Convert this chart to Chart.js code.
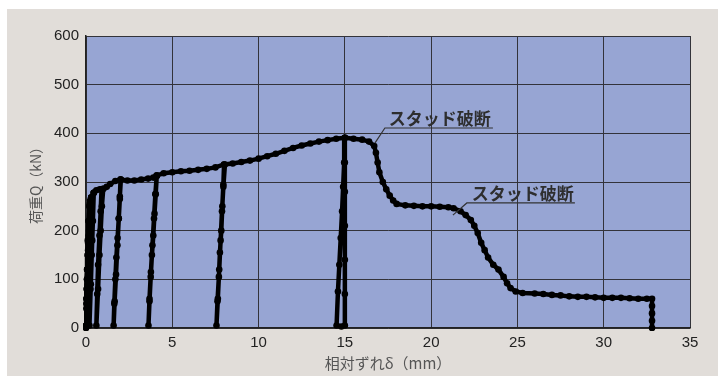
<!DOCTYPE html>
<html>
<head>
<meta charset="utf-8">
<script src="https://cdn.jsdelivr.net/npm/chart.js@4/dist/chart.umd.min.js"></script>
<style>
  html, body { margin: 0; padding: 0; background: #ffffff; }
  #frame {
    position: absolute; left: 7px; top: 9px;
    width: 711px; height: 367px; background: #e1ddd9;
  }
  canvas { display: block; }
</style>
</head>
<body>
<div id="frame"><canvas id="chart" width="711" height="367"></canvas></div>
<script>
// Load-slip curve of a stud push-out test (relative slip δ vs load Q)

// ---------------------------------------------------------------------------
// Data
// ---------------------------------------------------------------------------

var xTicks = [0, 5, 10, 15, 20, 25, 30, 35];
var yTicks = [0, 100, 200, 300, 400, 500, 600];

// backbone (envelope) curve
var envSlip = [0, 0.03, 0.06, 0.1, 0.15, 0.2, 0.3, 0.45, 0.6, 0.8, 1.0, 1.2, 1.4, 1.7,
  2.0, 2.4, 2.8, 3.2, 3.6, 3.9, 4.1, 4.5, 5.0, 5.5, 6.0, 6.5, 7.0, 7.5, 8.0, 8.5,
  9.0, 9.5, 10.0, 10.5, 11.0, 11.5, 12.0, 12.5, 13.0, 13.5, 14.0, 14.5, 15.0, 15.5,
  16.0, 16.4, 16.7, 16.8, 16.9, 17.0, 17.2, 17.4, 17.6, 17.8, 18.0, 18.5, 19.0, 19.5,
  20.0, 20.5, 21.0, 21.3, 21.7, 22.0, 22.3, 22.5, 22.7, 22.9, 23.1, 23.3, 23.6, 23.9,
  24.2, 24.4, 24.6, 24.9, 25.3, 26.0, 26.5, 27.0, 27.5, 28.0, 28.5, 29.0, 29.5, 30.0,
  30.5, 31.0, 31.5, 32.0, 32.5, 32.8, 32.8, 32.8, 32.8, 32.8];
var envLoad = [0, 60, 120, 180, 220, 250, 268, 278, 283, 285, 286, 290, 296, 302,
  305, 303, 303, 305, 307, 309, 313, 318, 320, 322, 323, 325, 327, 330, 336, 338,
  341, 344, 348, 353, 358, 364, 370, 375, 379, 383, 386, 389, 391, 389,
  387, 383, 374, 360, 340, 320, 300, 285, 272, 262, 255, 252, 251, 250,
  250, 249, 248, 246, 240, 232, 222, 210, 195, 175, 160, 145, 130, 120,
  105, 92, 82, 75, 72, 71, 70, 68, 67, 65, 64, 64, 63, 62,
  62, 62, 61, 60, 60, 60, 45, 30, 15, 0];

// unloading / reloading loops
var loopSlip = [
  [0.06, 0.03, 0.0, 0.02, 0.05, 0.08],
  [0.1, 0.06, 0.02, 0.0, 0.04, 0.08, 0.12],
  [0.15, 0.1, 0.05, 0.0, 0.05, 0.12, 0.2],
  [0.22, 0.16, 0.1, 0.05, 0.1, 0.18, 0.24],
  [0.3, 0.26, 0.2, 0.12, 0.05, 0.15, 0.25, 0.3],
  [0.45, 0.4, 0.33, 0.26, 0.2, 0.28, 0.36, 0.45],
  [0.9, 0.85, 0.78, 0.7, 0.65, 0.6, 0.7, 0.78, 0.85, 0.92, 1.0],
  [2.0, 1.96, 1.9, 1.83, 1.76, 1.7, 1.64, 1.6, 1.66, 1.74, 1.82, 1.9, 1.96, 2.02],
  [4.1, 4.04, 3.97, 3.9, 3.82, 3.75, 3.68, 3.62, 3.68, 3.76, 3.85, 3.94, 4.02, 4.1],
  [8.0, 7.96, 7.9, 7.84, 7.76, 7.7, 7.62, 7.56, 7.64, 7.72, 7.8, 7.88, 7.96, 8.05],
  [15.0, 14.96, 14.9, 14.84, 14.76, 14.68, 14.6, 14.52, 14.8, 15.0, 15.0, 15.0, 15.0, 15.0, 15.0, 15.0]
];
var loopLoad = [
  [100, 60, 5, 40, 80, 120],
  [150, 100, 50, 5, 60, 120, 175],
  [220, 150, 80, 5, 80, 160, 250],
  [255, 190, 120, 5, 100, 200, 262],
  [268, 220, 160, 90, 5, 100, 200, 268],
  [278, 220, 150, 80, 5, 90, 180, 278],
  [285, 240, 190, 130, 70, 5, 80, 150, 200, 250, 286],
  [305, 265, 225, 185, 145, 100, 50, 5, 55, 110, 170, 225, 270, 305],
  [313, 275, 235, 190, 150, 105, 55, 5, 60, 115, 170, 225, 275, 313],
  [336, 295, 250, 200, 155, 105, 55, 5, 60, 120, 180, 240, 290, 336],
  [391, 340, 290, 240, 185, 130, 75, 5, 3, 5, 70, 140, 210, 280, 340, 391]
];

var noteText = ['スタッド破断', 'スタッド破断'];

// ---------------------------------------------------------------------------
// Build datasets
// ---------------------------------------------------------------------------

function toPoints(xs, ys) {
  return xs.map(function (x, i) { return { x: x, y: ys[i] }; });
}

function curveStyle(points) {
  return {
    data: points,
    showLine: true,
    borderColor: '#000000',
    borderWidth: 4.5,
    backgroundColor: '#000000',
    pointRadius: 3.3,
    pointBorderWidth: 0,
    tension: 0,
    clip: 3
  };
}

var datasets = [curveStyle(toPoints(envSlip, envLoad))];
loopSlip.forEach(function (xs, i) {
  datasets.push(curveStyle(toPoints(xs, loopLoad[i])));
});

// ---------------------------------------------------------------------------
// Plugins: plot background and the two annotations
// ---------------------------------------------------------------------------

var plotBackground = {
  id: 'plotBackground',
  beforeDraw: function (chart) {
    var a = chart.chartArea;
    var ctx = chart.ctx;
    ctx.save();
    ctx.fillStyle = '#97a5d3';
    ctx.fillRect(a.left, a.top, a.right - a.left, a.bottom - a.top);
    ctx.restore();
  }
};

// leader tip -> underline start, underline end, text origin (data units)
var notes = [
  { tip: [16.74, 380], knee: [17.32, 411], end: 23.58, text: [17.55, 417] },
  { tip: [21.26, 232], knee: [22.07, 257], end: 28.33, text: [22.36, 263] }
];

var annotations = {
  id: 'annotations',
  afterDatasetsDraw: function (chart) {
    var sx = chart.scales.x, sy = chart.scales.y;
    var ctx = chart.ctx;
    ctx.save();
    ctx.strokeStyle = '#333333';
    ctx.fillStyle = '#2e2e2e';
    ctx.lineWidth = 1.2;
    ctx.font = 'bold 17px "Noto Sans CJK JP", sans-serif';
    ctx.textBaseline = 'alphabetic';
    notes.forEach(function (n, i) {
      var kx = sx.getPixelForValue(n.knee[0]);
      var ky = sy.getPixelForValue(n.knee[1]);
      ctx.beginPath();
      ctx.moveTo(sx.getPixelForValue(n.tip[0]), sy.getPixelForValue(n.tip[1]));
      ctx.lineTo(kx, ky);
      ctx.lineTo(sx.getPixelForValue(n.end), ky);
      ctx.stroke();
      ctx.fillText(noteText[i], sx.getPixelForValue(n.text[0]), sy.getPixelForValue(n.text[1]));
    });
    ctx.restore();
  }
};

// ---------------------------------------------------------------------------
// Chart
// ---------------------------------------------------------------------------

new Chart(document.getElementById('chart'), {
  type: 'scatter',
  data: { datasets: datasets },
  options: {
    responsive: false,
    animation: false,
    layout: { padding: { left: 0, top: 27, right: 28, bottom: 0 } },
    plugins: { legend: { display: false }, tooltip: { enabled: false } },
    scales: {
      x: {
        type: 'linear',
        min: 0,
        max: 35,
        afterBuildTicks: function (scale) {
          scale.ticks = xTicks.map(function (v) { return { value: v }; });
        },
        afterFit: function (scale) { scale.height = 48; },
        grid: { color: '#33333a', lineWidth: 1, drawTicks: false },
        border: { color: '#222222', width: 1.5 },
        ticks: {
          padding: 6,
          color: '#222222',
          font: { family: '"Liberation Sans", Arial, sans-serif', size: 15 }
        },
        title: {
          display: true,
          text: '相対ずれδ（mm）',
          color: '#555555',
          padding: { top: 0, bottom: 4 },
          font: { family: '"Noto Sans CJK JP", sans-serif', size: 15 }
        }
      },
      y: {
        type: 'linear',
        min: 0,
        max: 600,
        afterBuildTicks: function (scale) {
          scale.ticks = yTicks.map(function (v) { return { value: v }; });
        },
        afterFit: function (scale) { scale.width = 79; },
        grid: { color: '#33333a', lineWidth: 1, drawTicks: false },
        border: { color: '#222222', width: 1.5 },
        ticks: {
          padding: 7,
          color: '#222222',
          font: { family: '"Liberation Sans", Arial, sans-serif', size: 15 }
        },
        title: {
          display: true,
          text: '荷重Q（kN）',
          color: '#555555',
          padding: { top: 20, bottom: 0 },
          font: { family: '"Noto Sans CJK JP", sans-serif', size: 14 }
        }
      }
    }
  },
  plugins: [plotBackground, annotations]
});
</script>
</body>
</html>
